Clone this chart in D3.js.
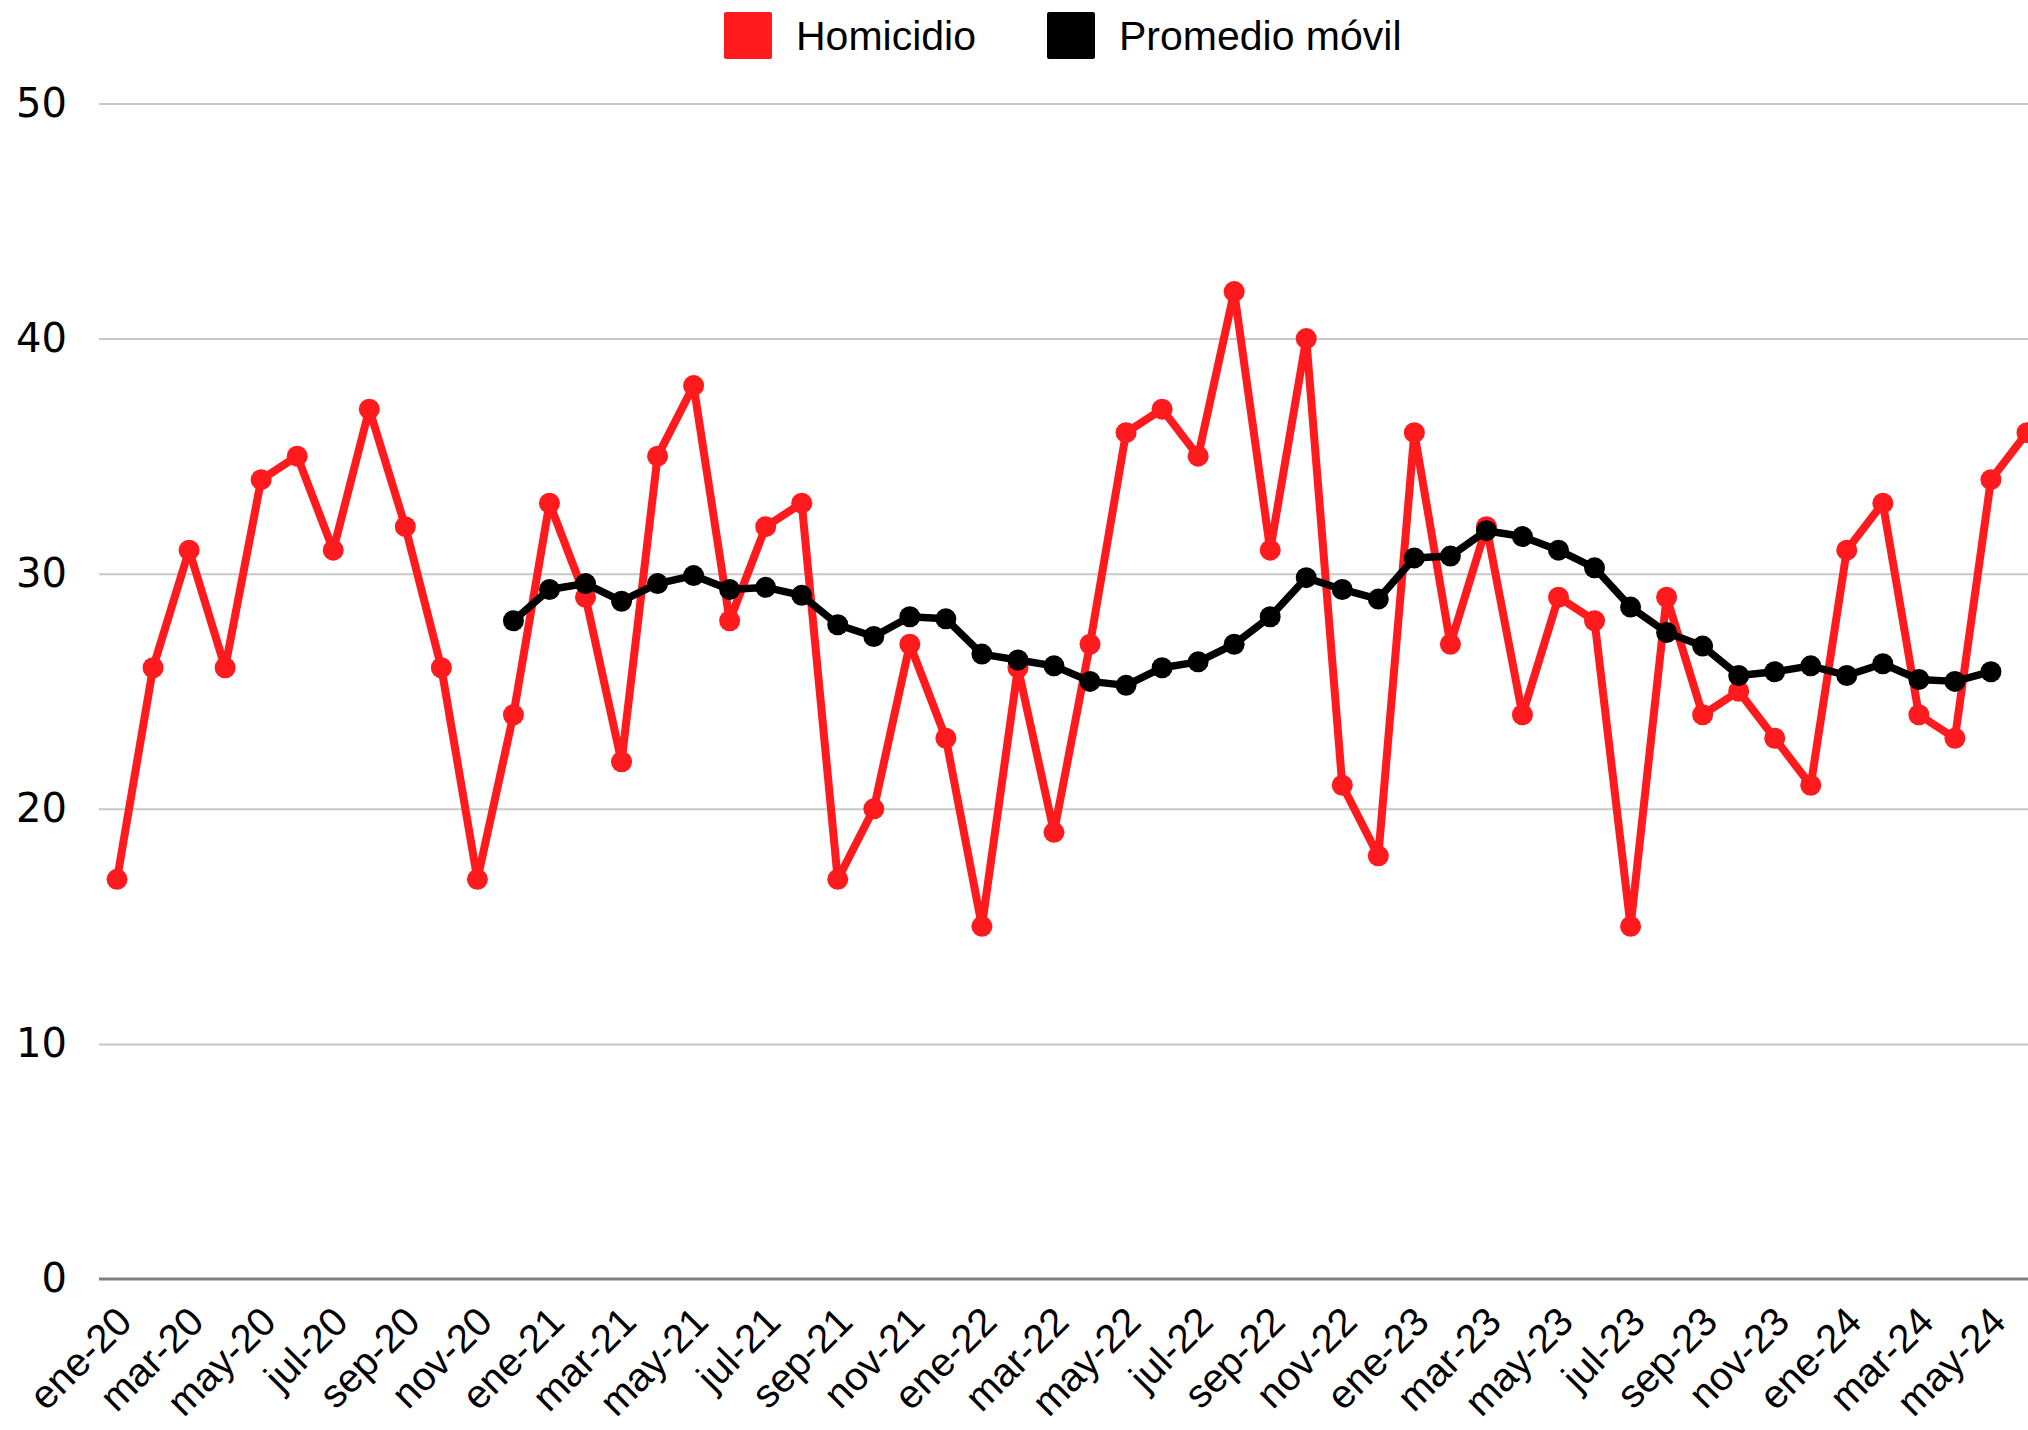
<!DOCTYPE html>
<html>
<head>
<meta charset="utf-8">
<script src="https://cdn.jsdelivr.net/npm/d3@7"></script>
<style>
  body { margin: 0; background: #fff; }
  svg { display: block; font-family: "Liberation Sans", Arial, sans-serif; }
</style>
</head>
<body>
<div id="canvas"></div>
<script>
const months = [
  'ene-20','feb-20','mar-20','abr-20','may-20','jun-20','jul-20','ago-20','sep-20','oct-20','nov-20','dic-20',
  'ene-21','feb-21','mar-21','abr-21','may-21','jun-21','jul-21','ago-21','sep-21','oct-21','nov-21','dic-21',
  'ene-22','feb-22','mar-22','abr-22','may-22','jun-22','jul-22','ago-22','sep-22','oct-22','nov-22','dic-22',
  'ene-23','feb-23','mar-23','abr-23','may-23','jun-23','jul-23','ago-23','sep-23','oct-23','nov-23','dic-23',
  'ene-24','feb-24','mar-24','abr-24','may-24','jun-24'
]

const homicidio = [
  17, 26, 31, 26, 34, 35, 31, 37, 32, 26, 17, 24,
  33, 29, 22, 35, 38, 28, 32, 33, 17, 20, 27, 23,
  15, 26, 19, 27, 36, 37, 35, 42, 31, 40, 21, 18,
  36, 27, 32, 24, 29, 28, 15, 29, 24, 25, 23, 21,
  31, 33, 24, 23, 34, 36
]

const promedioMovil = [
  null, null, null, null, null, null, null, null, null, null, null, 28.0,
  29.33, 29.58, 28.83, 29.58, 29.92, 29.33, 29.42, 29.08, 27.83, 27.33, 28.17, 28.08,
  26.58, 26.33, 26.08, 25.42, 25.25, 26.0, 26.25, 27.0, 28.17, 29.83, 29.33, 28.92,
  30.67, 30.75, 31.83, 31.58, 31.0, 30.25, 28.58, 27.5, 26.92, 25.67, 25.83, 26.08,
  25.67, 26.17, 25.5, 25.42, 25.83, null
]

const yTicks = [0, 10, 20, 30, 40, 50]

const width = 2028
const height = 1430
const margin = { top: 103.5, bottom: 151, left: 99, right: -17 }

const red = '#ff1a1d'

const svg = d3.select('#canvas')
  .append('svg')
    .attr('width', width)
    .attr('height', height)
    .attr('viewBox', [0, 0, width, height])

const x = d3.scaleBand()
  .domain(months)
  .range([margin.left, width - margin.right])
  .padding(0)
const cx = d => x(d) + x.bandwidth() / 2

const y = d3.scaleLinear()
  .domain([0, 50])
  .range([height - margin.bottom, margin.top])

// gridlines
svg.append('g')
  .attr('transform', `translate(${margin.left}, 0)`)
  .call(d3.axisLeft(y).tickValues(yTicks.slice(1)).tickSize(-(width - margin.left)).tickFormat(''))
  .call(g => g.select('.domain').remove())
  .call(g => g.selectAll('.tick line').attr('stroke', '#c8c8c8').attr('stroke-width', 2))

// y labels
svg.append('g')
  .attr('transform', `translate(${margin.left - 32}, 0)`)
  .call(d3.axisLeft(y).tickValues(yTicks).tickSize(0).tickPadding(0))
  .call(g => g.select('.domain').remove())
  .call(g => g.selectAll('text')
    .attr('font-size', 40)
    .attr('fill', '#000')
    .attr('font-family', '"DejaVu Sans", sans-serif'))

// x axis
svg.append('g')
  .attr('transform', `translate(0, ${y(0)})`)
  .call(d3.axisBottom(x).tickValues(months.filter((d, i) => i % 2 === 0)).tickSize(0).tickPadding(0))
  .call(g => g.select('.domain')
    .attr('d', `M${margin.left},0H${width}`)
    .attr('stroke', '#7f7f7f')
    .attr('stroke-width', 3))
  .call(g => g.selectAll('text')
    .attr('font-size', 40)
    .attr('fill', '#000')
    .attr('font-family', '"Liberation Sans", Arial, sans-serif')
    .attr('text-anchor', 'end')
    .attr('dy', 0)
    .attr('transform', 'translate(17, 45) rotate(-45)'))

const line = d3.line()
  .defined(d => d[1] != null)
  .x(d => cx(d[0]))
  .y(d => y(d[1]))

const redPts = months.map((m, i) => [m, homicidio[i]])
const blackPts = months.map((m, i) => [m, promedioMovil[i]])

svg.append('path')
  .datum(redPts)
  .attr('d', line)
  .attr('fill', 'none')
  .attr('stroke', red)
  .attr('stroke-width', 8)
  .attr('stroke-linejoin', 'round')

svg.append('g').selectAll('circle')
  .data(redPts)
  .enter()
  .append('circle')
    .attr('cx', d => cx(d[0]))
    .attr('cy', d => y(d[1]))
    .attr('r', 10.5)
    .attr('fill', red)

svg.append('path')
  .datum(blackPts)
  .attr('d', line)
  .attr('fill', 'none')
  .attr('stroke', '#000')
  .attr('stroke-width', 7.5)
  .attr('stroke-linejoin', 'round')

svg.append('g').selectAll('circle')
  .data(blackPts.filter(d => d[1] != null))
  .enter()
  .append('circle')
    .attr('cx', d => cx(d[0]))
    .attr('cy', d => y(d[1]))
    .attr('r', 10.5)
    .attr('fill', '#000')

// legend
const legendItems = [
  { name: 'Homicidio', color: red, x: 724 },
  { name: 'Promedio móvil', color: '#000', x: 1047 }
]

const legend = svg.append('g')
  .selectAll('g')
  .data(legendItems)
  .enter()
  .append('g')
    .attr('transform', d => `translate(${d.x}, 12)`)

legend.append('rect')
  .attr('width', 48)
  .attr('height', 47)
  .attr('rx', 2)
  .attr('fill', d => d.color)

legend.append('text')
  .attr('x', 72)
  .attr('y', 38)
  .attr('font-size', 41)
  .attr('fill', '#000')
  .text(d => d.name)
</script>
</body>
</html>
